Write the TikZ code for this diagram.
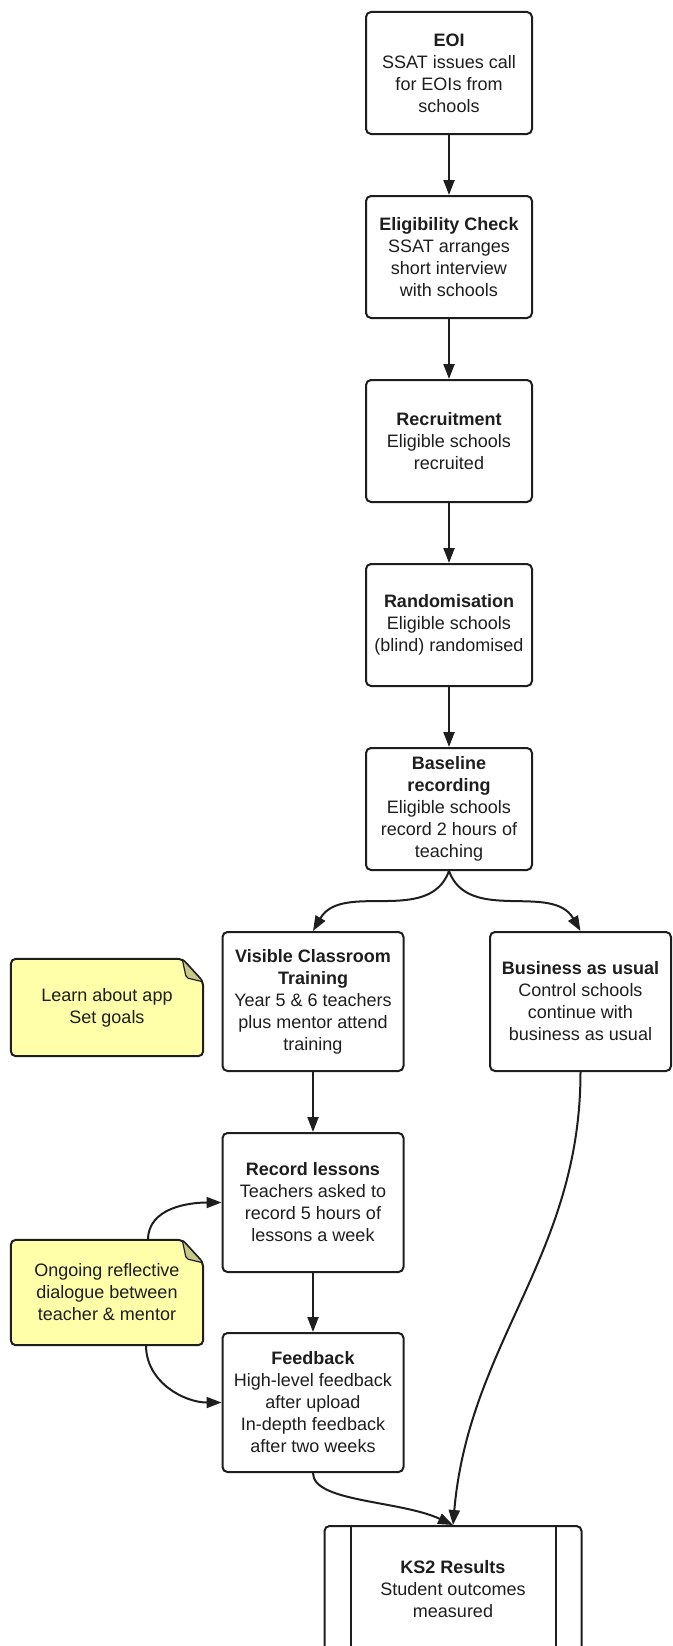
\documentclass[tikz,border=0pt]{standalone}
\usepackage{fontspec}
\setmainfont{Liberation Sans}
\usetikzlibrary{arrows.meta, backgrounds}
\definecolor{ink}{RGB}{30,30,30}
\definecolor{memoyellow}{RGB}{255,255,170}
\definecolor{memofold}{RGB}{200,200,140}
\tikzset{>={Triangle[length=15pt,width=11pt]}}

\begin{document}
\begin{tikzpicture}[x=1pt, y=-1pt,
  every node/.style={font=\fontsize{18}{22}\selectfont, align=center, text=ink},
  stage/.style={draw=ink, line width=2pt, rounded corners=5pt, fill=white, minimum width=166pt, minimum height=122pt, inner sep=0pt},
  wide/.style={stage, minimum width=181pt, minimum height=139pt},
  final/.style={wide, minimum width=257pt, minimum height=126pt,
    path picture={\draw[ink, line width=2pt]
      ([xshift=26pt]path picture bounding box.north west) -- ([xshift=26pt]path picture bounding box.south west)
      ([xshift=-26pt]path picture bounding box.north east) -- ([xshift=-26pt]path picture bounding box.south east);}},
  memo/.style={minimum width=192pt, inner sep=0pt},
  flow/.style={->, draw=ink, line width=2pt}]

			\useasboundingbox (0,0) rectangle (672,1646);

			\node[stage] (A) at (449,73) {\textbf{EOI}\\SSAT issues call\\for EOIs from\\schools};
			\node[stage] (B) at (449,257) {\textbf{Eligibility Check}\\SSAT arranges\\short interview\\with schools};
			\node[stage] (C) at (449,441) {\textbf{Recruitment}\\Eligible schools\\recruited};
			\node[stage] (D) at (449,625) {\textbf{Randomisation}\\Eligible schools\\(blind) randomised};
			\node[stage] (E) at (449,809) {\textbf{Baseline}\\\textbf{recording}\\Eligible schools\\record 2 hours of\\teaching};

			\node[wide] (F1) at (313,1001.5) {\textbf{Visible Classroom}\\\textbf{Training}\\Year 5 \& 6 teachers\\plus mentor attend\\training};
			\node[wide] (F2) at (580.5,1001.5) {\textbf{Business as usual}\\Control schools\\continue with\\business as usual};
			\node[wide] (G) at (313,1202.5) {\textbf{Record lessons}\\Teachers asked to\\record 5 hours of\\lessons a week};
			\node[wide] (H) at (313,1402.5) {\textbf{Feedback}\\High-level feedback\\after upload\\In-depth feedback\\after two weeks};
			\node[final] (K) at (453,1589) {\textbf{KS2 Results}\\Student outcomes\\measured};

			\node[memo, minimum height=97pt] (N1) at (107,1007.5) {Learn about app\\Set goals};
			\node[memo, minimum height=105pt] (N2) at (107,1292.5) {Ongoing reflective\\dialogue between\\teacher \& mentor};

			\begin{scope}[on background layer]
			\foreach \n in {N1,N2} {
				\draw[ink, line width=2pt, fill=memoyellow, rounded corners=5pt] (\n.north west) -- ([xshift=-21pt]\n.north east) -- ([yshift=-23pt]\n.north east) -- (\n.south east) -- (\n.south west) -- cycle;
				\draw[ink, line width=1.2pt, fill=memofold, rounded corners=2pt] ([xshift=-21pt]\n.north east) -- ([yshift=-23pt]\n.north east) -- ([xshift=-17pt,yshift=-19pt]\n.north east) -- cycle;
			}
			\end{scope}

			\draw[flow] (A) -- (B);
			\draw[flow] (B) -- (C);
			\draw[flow] (C) -- (D);
			\draw[flow] (D) -- (E);
			\draw[flow] (E.south) to[out=-110,in=60] (F1.north);
			\draw[flow] (E.south) to[out=-70,in=120] (F2.north);
			\draw[flow] (F1) -- (G);
			\draw[flow] (G) -- (H);
			\draw[flow] (H.south) to[out=-90,in=155,out looseness=0.5] (K.north);
			\draw[flow] (F2.south) to[out=-90,in=85] (K.north);
			\draw[flow] ([xshift=41pt]N2.north) to[out=90,in=180] (G.west);
			\draw[flow] ([xshift=39pt]N2.south) to[out=-90,in=180] (H.west);

\end{tikzpicture}
\end{document}
